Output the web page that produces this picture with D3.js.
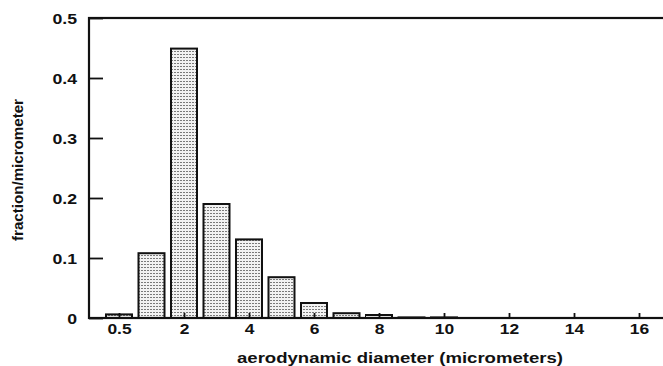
<!DOCTYPE html>
<html>
<head>
<meta charset="utf-8">
<script src="https://cdn.jsdelivr.net/npm/d3@7"></script>
<style>
body { margin: 0; background: #fff; }
text { font-family: "Liberation Sans", Arial, sans-serif; font-weight: bold; fill: #111; }
</style>
</head>
<body>
<script>
// bin positions (first bin drawn at 0 but labelled 0.5)
let bins = [0, 1, 2, 3, 4, 5, 6, 7, 8, 9, 10];
let fraction = [0.006, 0.108, 0.449, 0.19, 0.131, 0.068, 0.025, 0.008, 0.005, 0.001, 0.001];
let xTicks = [0, 2, 4, 6, 8, 10, 12, 14, 16];
let xTickLabels = ["0.5", "2", "4", "6", "8", "10", "12", "14", "16"];
let yTicks = [0, 0.1, 0.2, 0.3, 0.4, 0.5];

let width = 663, height = 366;
let svg = d3.select('body').append('svg')
    .attr('width', width).attr('height', height);

// the original type is a wide heavy grotesque, so stretch glyphs a bit
let widen = function (sel, f) {
    sel.each(function () {
        let l = this.getComputedTextLength();
        d3.select(this).attr('textLength', l * f).attr('lengthAdjust', 'spacingAndGlyphs');
    });
};

let defs = svg.append('defs');
let pat = defs.append('pattern')
    .attr('id', 'dots')
    .attr('patternUnits', 'userSpaceOnUse')
    .attr('width', 3).attr('height', 3);
pat.append('rect').attr('width', 3).attr('height', 3).attr('fill', '#f2f2f2');
pat.append('rect').attr('width', 2).attr('height', 1).attr('fill', '#7a7a7a');

let x = d3.scaleLinear().domain([-0.923, 17]).range([89, 671.5]);
let y = d3.scaleLinear().domain([0, 0.5]).range([318, 18]);

let g = svg.append('g');

// bars
g.selectAll('rect.bar').data(bins).enter().append('rect')
    .attr('class', 'bar')
    .attr('x', d => x(d - 0.4))
    .attr('width', x(0.8) - x(0))
    .attr('y', (d, i) => y(fraction[i]))
    .attr('height', (d, i) => y(0) - y(fraction[i]))
    .attr('fill', 'url(#dots)')
    .attr('stroke', '#111')
    .attr('stroke-width', 2);

// frame
g.append('rect')
    .attr('x', x(-0.923)).attr('y', y(0.5))
    .attr('width', x(17) - x(-0.923)).attr('height', y(0) - y(0.5))
    .attr('fill', 'none').attr('stroke', '#111').attr('stroke-width', 2.2);

// y axis
let yAxis = d3.axisRight(y).tickValues(yTicks).tickSize(14)
    .tickFormat(d => d === 0 ? '0' : d3.format('.1f')(d));
let ya = g.append('g').attr('transform', `translate(${x(-0.923)},0)`).call(yAxis);
ya.select('.domain').remove();
ya.selectAll('line').attr('stroke', '#111').attr('stroke-width', 1.8);
ya.selectAll('text').attr('x', -12).attr('text-anchor', 'end')
    .attr('dy', '0.35em').style('font-size', '14.5px')
    .style('font-family', '"Liberation Sans", Arial, sans-serif')
    .call(widen, 1.22);

// x axis
let xAxis = d3.axisTop(x).tickValues(xTicks).tickSize(5)
    .tickFormat((d, i) => xTickLabels[i]);
let xa = g.append('g').attr('transform', `translate(0,${y(0)})`).call(xAxis);
xa.select('.domain').remove();
xa.selectAll('line').attr('stroke', '#111').attr('stroke-width', 1.8);
xa.selectAll('text').attr('y', 11).attr('dy', '0.35em')
    .style('font-size', '14.5px')
    .style('font-family', '"Liberation Sans", Arial, sans-serif')
    .call(widen, 1.2);

// axis titles
let xt = svg.append('text')
    .attr('x', 400).attr('y', 363)
    .attr('text-anchor', 'middle')
    .style('font-size', '15.5px')
    .text('aerodynamic diameter (micrometers)');
xt.attr('textLength', 326).attr('lengthAdjust', 'spacingAndGlyphs');

let yt = svg.append('text')
    .attr('transform', 'translate(23,170) rotate(-90)')
    .attr('text-anchor', 'middle')
    .style('font-size', '15px')
    .text('fraction/micrometer');
yt.attr('textLength', 142).attr('lengthAdjust', 'spacingAndGlyphs');
</script>
</body>
</html>
